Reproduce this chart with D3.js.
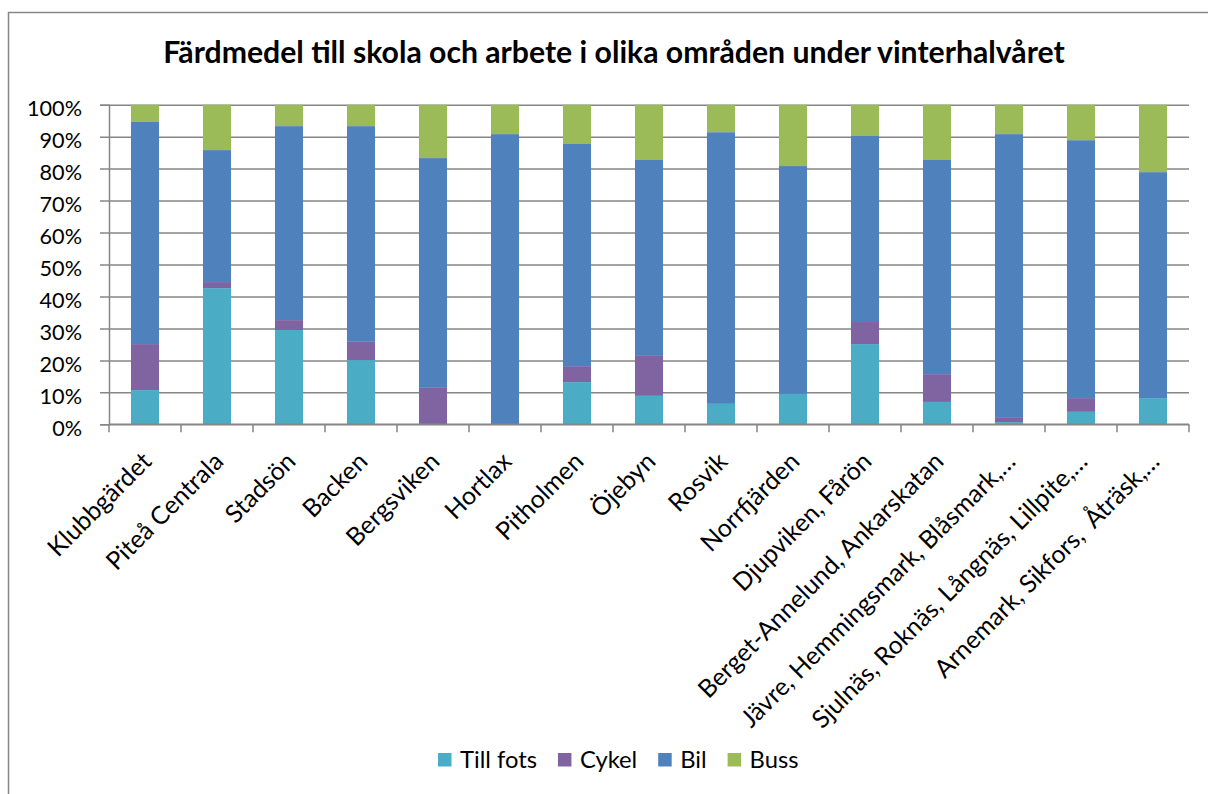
<!DOCTYPE html>
<html><head><meta charset="utf-8">
<script src="https://cdn.jsdelivr.net/npm/d3@7"></script>
<style>body{margin:0;background:#fff}svg{display:block}text{font-family:Lato,"Open Sans",sans-serif;fill:#000;white-space:pre}</style>
</head><body><svg id="c" width="1208" height="794"></svg>
<script>
const categories = ["Klubbgärdet","Piteå Centrala","Stadsön","Backen","Bergsviken","Hortlax","Pitholmen","Öjebyn","Rosvik","Norrfjärden","Djupviken, Fårön","Berget-Annelund, Ankarskatan","Jävre, Hemmingsmark, Blåsmark,…","Sjulnäs, Roknäs, Långnäs, Lillpite,…","Arnemark, Sikfors,  Åträsk,…"];
const seriesNames = ["Till fots","Cykel","Bil","Buss"];
const tillFots = [10.7,42.6,29.5,20.1,0,0,13.2,8.9,6.4,9.5,25.1,7.0,0.7,3.9,8.2];
const cykel    = [14.4,1.9,3.1,5.7,11.4,0,5.0,12.5,0,0,6.9,8.7,1.3,4.3,0];
const bil      = [69.5,41.3,60.7,67.5,71.9,90.8,69.5,61.3,85.0,71.3,58.2,67.0,88.8,80.7,70.7];
const buss     = [5.4,14.2,6.7,6.7,16.7,9.2,12.3,17.3,8.6,19.2,9.8,17.3,9.2,11.1,21.1];
const yTicks = [0,0.1,0.2,0.3,0.4,0.5,0.6,0.7,0.8,0.9,1.0];
const colors = ["#4BACC6","#8064A2","#4F81BD","#9BBB59"];
const title = "Färdmedel till skola och arbete i olika områden under vinterhalvåret";

const svg = d3.select("#c");
const grid = "#868686";

// chart border
svg.append("rect").attr("x",8.5).attr("y",12.5).attr("width",1220).attr("height",800)
  .attr("fill","none").attr("stroke",grid).attr("stroke-width",1.5);

const L=109,R=1189,T=104.7,B=424.3;
const x = d3.scaleBand().domain(categories).range([L,R]).paddingInner(0.61).paddingOuter(0.305);
const y = d3.scaleLinear().domain([0,1]).range([B,T]);

const rows = categories.map((c,i)=>({cat:c,"Till fots":tillFots[i],"Cykel":cykel[i],"Bil":bil[i],"Buss":buss[i]}));
const stack = d3.stack().keys(seriesNames).offset(d3.stackOffsetExpand)(rows);

// gridlines
svg.append("g").attr("transform",`translate(${L},0)`)
  .call(d3.axisLeft(y).tickValues(yTicks).tickSize(-(R-L)).tickFormat(""))
  .call(g=>g.select(".domain").remove())
  .call(g=>g.selectAll("line").attr("stroke",grid).attr("stroke-width",1.5).attr("x1",-9));

// bars
svg.append("g").selectAll("g").data(stack).join("g").attr("fill",(d,i)=>colors[i])
  .selectAll("rect").data(d=>d).join("rect")
  .attr("x",d=>x(d.data.cat)).attr("width",x.bandwidth())
  .attr("y",d=>y(d[1])).attr("height",d=>y(d[0])-y(d[1]));

// y axis labels + line
const yAx = svg.append("g").attr("transform",`translate(${L},0)`)
  .call(d3.axisLeft(y).tickValues(yTicks).tickSize(9).tickPadding(18).tickFormat(d3.format(".0%")));
yAx.select(".domain").attr("stroke",grid).attr("stroke-width",1.5);
yAx.selectAll("line").remove();
yAx.selectAll("text").attr("font-size",24).attr("dy","0.5em").attr("font-family","Lato");

function fitSize(sel, target){ const w = sel.node().getComputedTextLength(); const fs=parseFloat(sel.attr("font-size")); return fs*target/w; }
const yfs = fitSize(yAx.selectAll("text").filter(d=>d===1), 55);
yAx.selectAll("text").attr("font-size",yfs);

// x axis
const xAx = svg.append("g");
xAx.append("line").attr("x1",L).attr("x2",R).attr("y1",B).attr("y2",B).attr("stroke",grid).attr("stroke-width",1.5);
const bounds = d3.range(categories.length+1).map(i=>x.range()[0]+i*x.step());
xAx.selectAll(".tk").data(bounds).join("line").attr("class","tk")
  .attr("x1",d=>d).attr("x2",d=>d).attr("y1",B).attr("y2",B+8).attr("stroke",grid).attr("stroke-width",1.5);

// legend
const leg = svg.append("g");
const probe = leg.append("text").attr("font-size",24).text(seriesNames[0]);
const lfs = fitSize(probe,77); probe.remove();
let cx0 = 438;
seriesNames.forEach((s,i)=>{
  leg.append("rect").attr("x",cx0).attr("y",753).attr("width",13.5).attr("height",13.5).attr("fill",colors[i]);
  const t = leg.append("text").attr("x",cx0+22).attr("y",768).attr("font-size",lfs).text(s);
  cx0 = cx0+22+t.node().getComputedTextLength()+21;
});

// x labels
xAx.selectAll(".lb").data(categories).join("text").attr("class","lb")
  .attr("font-size",lfs*1.05).attr("text-anchor","end")
  .attr("transform",d=>`translate(${x(d)+x.bandwidth()/2+8},463) rotate(-45)`)
  .text(d=>d);

// title
const tt = svg.append("text").attr("x",614).attr("y",63).attr("text-anchor","middle")
  .attr("font-weight","bold").attr("font-size",24).text(title);
tt.attr("font-size",fitSize(tt,902));
</script></body></html>
